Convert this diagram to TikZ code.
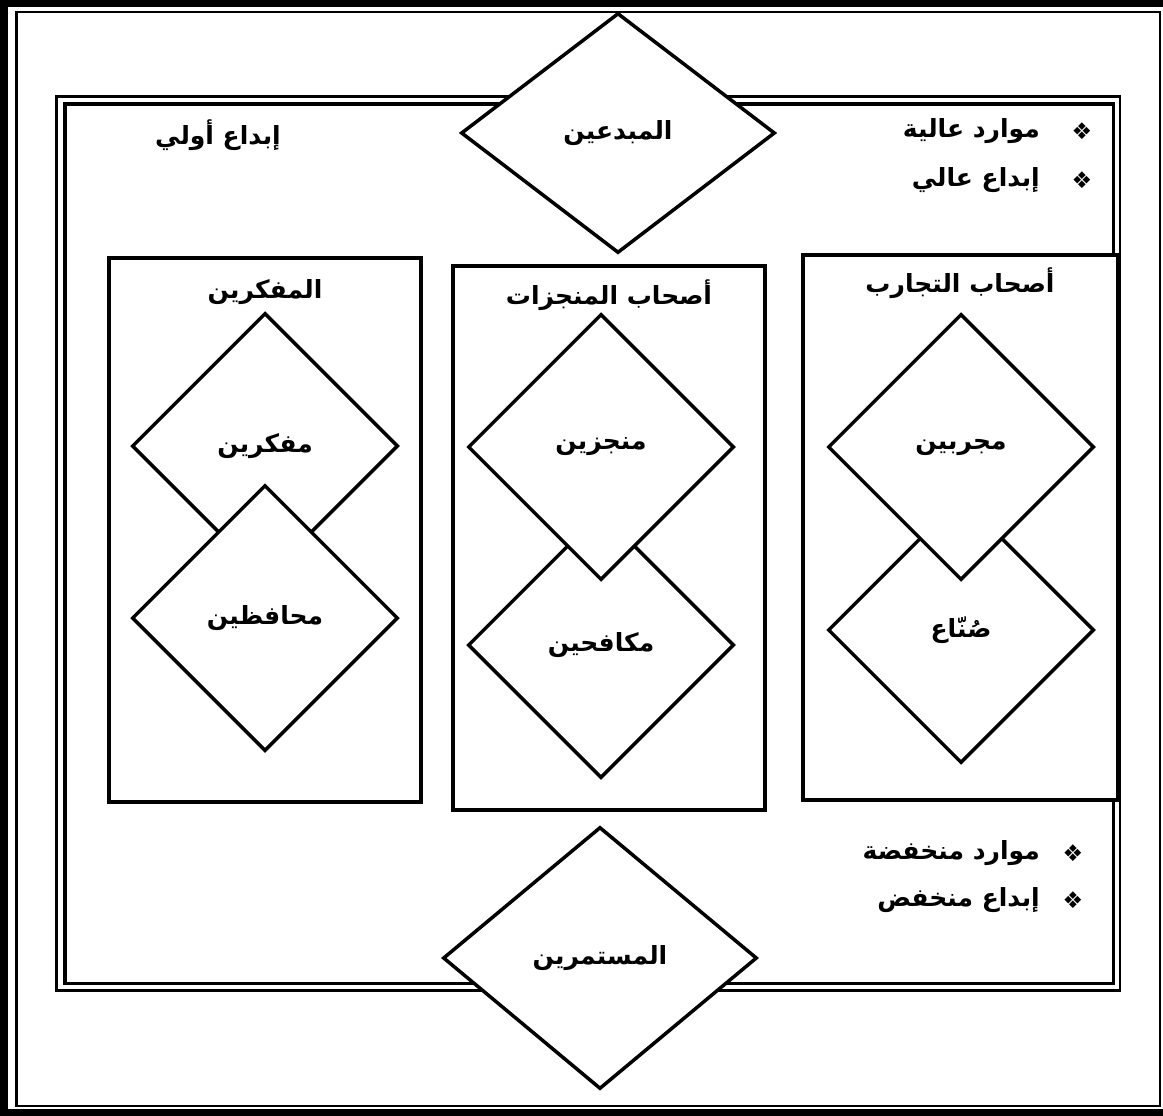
\documentclass[tikz,border=0pt]{standalone}
\usepackage{fontspec}
\usetikzlibrary{shapes.geometric}
\TeXXeTstate=1
\newfontfamily\arabicfont[Script=Arabic]{DejaVu Sans}
\newfontfamily\dingfont{DejaVu Sans}
\begin{document}
\begin{tikzpicture}[x=1pt,y=-1pt,
  arfont/.style={font=\arabicfont\bfseries\fontsize{25}{29}\selectfont},
  dia/.style={diamond, draw, fill=white, line width=3.5pt, inner sep=0pt, arfont},
  coldia/.style={dia, minimum width=266pt, minimum height=266pt},
  colbox/.style={rectangle, draw, fill=white, line width=3.5pt, inner sep=0pt},
  lbl/.style={arfont, inner sep=0pt},
  bul/.style={font=\dingfont\fontsize{23}{26}\selectfont, inner sep=0pt}]
\useasboundingbox (0,0) rectangle (1163,1116);
\clip (0,0) rectangle (1163,1116);
% page border (thick-thin)
\draw[line width=7.5pt] (3.75,3.75) rectangle (1175,1112.25);
\draw[line width=2.2pt] (16.5,12) rectangle (1160,1106);
% double frame
\draw[line width=2.6pt] (56.7,96.7) rectangle (1120,990.5);
\draw[line width=3.8pt] (64.7,104) rectangle (1113.5,983.5);

% top and bottom diamonds
\node[dia, minimum width=314pt, minimum height=240pt] (mubdi) at (618,133) {\beginR المبدعين\endR};
\node[dia, minimum width=314pt, minimum height=262pt] (mustamir) at (600,958) {\beginR المستمرين\endR};

% free texts
\node[lbl] (ibdaawwali) at (218,135) {\beginR إبداع أولي\endR};
\node[bul] (b1) at (1082,131) {❖};
\node[lbl, anchor=east] (t1) at (1040,131) {\beginR موارد عالية\endR};
\node[bul] (b2) at (1082,180) {❖};
\node[lbl, anchor=east] (t2) at (1040,180) {\beginR إبداع عالي\endR};
\node[bul] (b3) at (1073,853) {❖};
\node[lbl, anchor=east] (t3) at (1040,853) {\beginR موارد منخفضة\endR};
\node[bul] (b4) at (1073,900) {❖};
\node[lbl, anchor=east] (t4) at (1040,900) {\beginR إبداع منخفض\endR};

% left column
\node[colbox, minimum width=312pt, minimum height=544pt] (boxL) at (265,530) {};
\node[lbl] (titleL) at (265,292) {\beginR المفكرين\endR};
\node[coldia] (mufakkirin) at (265,446) {\beginR مفكرين\endR};
\node[coldia] (muhafizin) at (265,618) {\beginR محافظين\endR};

% middle column
\node[colbox, minimum width=312pt, minimum height=544pt] (boxM) at (609,538) {};
\node[lbl] (titleM) at (609,295) {\beginR أصحاب المنجزات\endR};
\node[coldia] (mukafihin) at (601,645) {\beginR مكافحين\endR};
\node[coldia] (munjizin) at (601,447) {\beginR منجزين\endR};

% right column
\node[colbox, minimum width=315pt, minimum height=545pt] (boxR) at (960.5,527.5) {};
\node[lbl] (titleR) at (960,283) {\beginR أصحاب التجارب\endR};
\node[coldia] (sunna) at (961,630) {\beginR صُنّاع\endR};
\node[coldia] (mujarribin) at (961,447) {\beginR مجربين\endR};
\end{tikzpicture}
\end{document}
